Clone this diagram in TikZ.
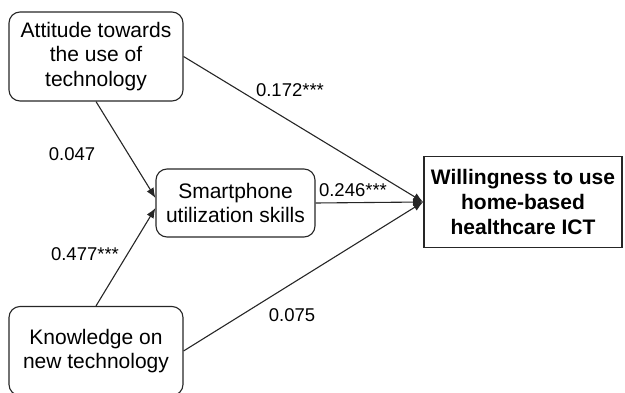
\documentclass[tikz,border=0pt]{standalone}
\usepackage{fontspec}
\setmainfont{Liberation Sans}
\usetikzlibrary{positioning,arrows.meta}
\tikzset{
construct/.style={draw=black!85,line width=1.1pt,rounded corners=11pt,align=center,inner sep=0pt,
font=\fontsize{21}{24.5}\selectfont},
outcome/.style={draw=black!85,line width=1.7pt,align=center,inner sep=0pt,
font=\fontsize{21}{25}\selectfont\bfseries},
effect/.style={-{Latex[length=10pt,width=8pt]},line width=1.1pt,black!85},
coef/.style={font=\fontsize{18.5}{20}\selectfont,inner sep=0pt}
}

\begin{document}
\begin{tikzpicture}[x=1pt,y=-1pt]
\useasboundingbox (0,0) rectangle (625,393);
\node[construct,minimum width=174pt,minimum height=89pt] (att) at (96,56.5) {Attitude towards\\the use of\\technology};
\node[construct,minimum width=174pt,minimum height=89pt] (know) at (96,351) {Knowledge on\\new technology};
\node[construct,minimum width=159pt,minimum height=68pt] (sps) at (235.5,203) {Smartphone\\utilization skills};
\node[outcome,minimum width=198pt,minimum height=91pt] (will) at (523,202) {Willingness to use\\home-based\\healthcare ICT};
\draw[effect] (att.east) -- (will.west);
\draw[effect] (sps.east) -- (will.west);
\draw[effect] (know.east) -- (will.west);
\draw[effect] (att.south) -- ([yshift=5pt]sps.west);
\draw[effect] (know.north) -- ([yshift=-5pt]sps.west);
\node[coef] (c172) at (290,90) {0.172***};
\node[coef] (c047) at (72,154) {0.047};
\node[coef] (c246) at (353,190) {0.246***};
\node[coef] (c477) at (85,254) {0.477***};
\node[coef] (c075) at (292,315) {0.075};
\end{tikzpicture}
\end{document}
